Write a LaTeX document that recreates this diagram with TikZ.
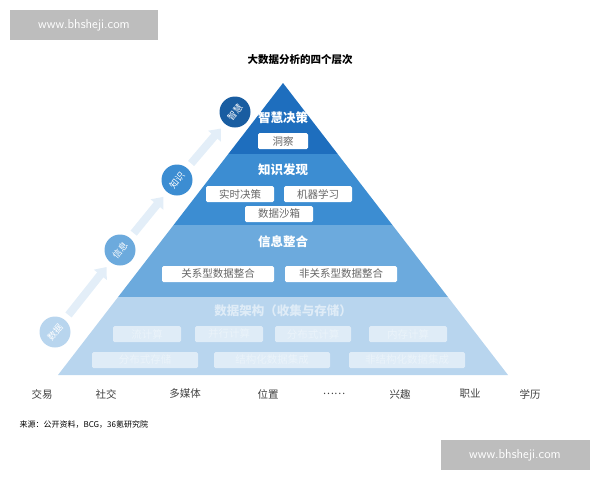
\documentclass[tikz,border=0pt]{standalone}
\usepackage{fontspec}
\newfontfamily\cjk{Noto Sans CJK SC}
\usetikzlibrary{arrows.meta}
\definecolor{lvA}{HTML}{1E6EBE}
\definecolor{lvB}{HTML}{3C8DD2}
\definecolor{lvC}{HTML}{6CAADD}
\definecolor{lvD}{HTML}{B8D5EE}
\definecolor{markgray}{HTML}{BDBDBD}
\tikzset{
  tag/.style={fill=white,rounded corners=1.5pt,minimum height=16pt,font=\cjk\fontsize{10.5}{11}\selectfont,text=gray!80!black,inner sep=1pt},
  paletag/.style={tag,fill=white!55!lvD,text=white!70!lvD},
  head/.style={font=\cjk\bfseries\fontsize{12.5}{13}\selectfont,text=white},
  ball/.style={circle,minimum size=31pt,inner sep=0pt,font=\cjk\fontsize{9}{9}\selectfont,text=white},
  step arrow/.style={line width=8pt,-{Triangle[length=10pt,width=16pt]},draw=lvD!40,shorten <=6pt,shorten >=6pt}
}
\begin{document}
\begin{tikzpicture}[x=1pt,y=-1pt]
  \useasboundingbox (0,0) rectangle (600,480);
  % levels of the pyramid
  \fill[lvA] (283,83) -- (337.7,154) -- (228.3,154) -- cycle;
  \fill[lvB] (228.3,154) -- (337.7,154) -- (392.4,225) -- (173.6,225) -- cycle;
  \fill[lvC] (173.6,225) -- (392.4,225) -- (447.9,297) -- (118.1,297) -- cycle;
  \fill[lvD] (118.1,297) -- (447.9,297) -- (508,375) -- (58,375) -- cycle;
  % heads and tags
  \node[head] (wisdom) at (283,118) {智慧决策};
  \node[tag,minimum width=50pt] (insight) at (283,141) {洞察};
  \node[head] (knowledge) at (283,170) {知识发现};
  \node[tag,minimum width=68pt] (realtime) at (240,194) {实时决策};
  \node[tag,minimum width=68pt] (learning) at (318,194) {机器学习};
  \node[tag,minimum width=68pt] (sandbox) at (279,214) {数据沙箱};
  \node[head] (information) at (283,242) {信息整合};
  \node[tag,minimum width=112pt] (relational) at (218,274) {关系型数据整合};
  \node[tag,minimum width=112pt] (nonrelational) at (341,274) {非关系型数据整合};
  \node[head,text=white!55!lvD] (data) at (283,311) {数据架构（收集与存储）};
  \node[paletag,minimum width=68pt] (stream) at (147,334) {流计算};
  \node[paletag,minimum width=68pt] (parallel) at (229,334) {并行计算};
  \node[paletag,minimum width=76pt] (distcomp) at (313,334) {分布式计算};
  \node[paletag,minimum width=78pt] (memory) at (408,334) {内存计算};
  \node[paletag,minimum width=106pt] (diststore) at (145,360) {分布式存储};
  \node[paletag,minimum width=116pt] (structured) at (272,360) {结构化数据集成};
  \node[paletag,minimum width=116pt] (unstructured) at (407,360) {非结构化数据集成};
  % steps on the left
  \node[ball,fill=lvD] (sData) at (55,332) {\rotatebox{50}{数据}};
  \node[ball,fill=lvC] (sInfo) at (120,250) {\rotatebox{50}{信息}};
  \node[ball,fill=lvB] (sKnow) at (177,180) {\rotatebox{50}{知识}};
  \node[ball,fill=lvA!85!black] (sWise) at (235,112) {\rotatebox{50}{智慧}};
  \draw[step arrow] (sData) -- (sInfo);
  \draw[step arrow] (sInfo) -- (sKnow);
  \draw[step arrow] (sKnow) -- (sWise);
  % sources along the base
  \foreach \x/\t in {42/交易,106/社交,185/多媒体,268/位置,334/……,400/兴趣,470/职业,530/学历}
    \node[font=\cjk\fontsize{10.5}{11}\selectfont,text=black!75] at (\x,394) {\t};
  \node[font=\cjk\bfseries\fontsize{10.5}{11}\selectfont] (title) at (300,60) {大数据分析的四个层次};
  \node[anchor=west,font=\cjk\fontsize{8}{8}\selectfont] (source) at (16,425) {来源：公开资料，BCG，36氪研究院};
  % watermarks
  \node[fill=markgray,text=white,minimum width=148pt,minimum height=30pt,font=\sffamily\fontsize{13}{13}\selectfont] (markA) at (84,25) {www.bhsheji.com};
  \node[fill=markgray,text=white,minimum width=149pt,minimum height=30pt,font=\sffamily\fontsize{13}{13}\selectfont] (markB) at (515,455) {www.bhsheji.com};
\end{tikzpicture}
\end{document}
